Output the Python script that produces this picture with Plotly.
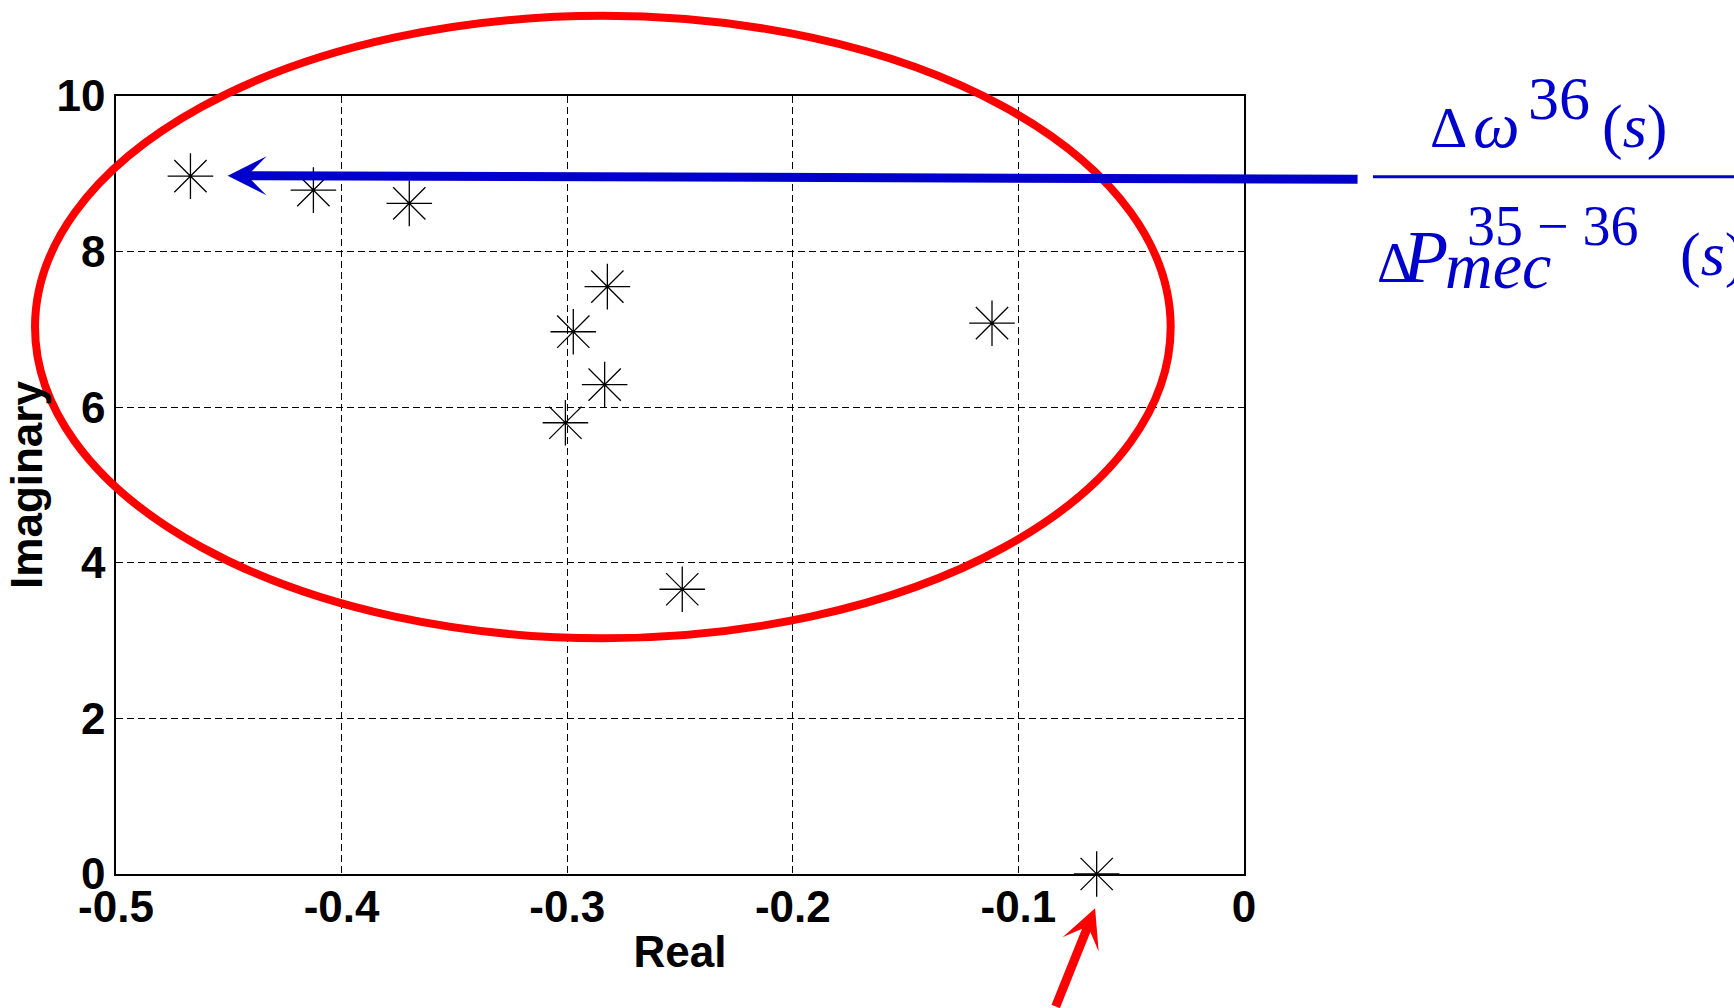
import plotly.graph_objects as go

# ---- data ----
real_parts = [-0.467, -0.4125, -0.370, -0.2822, -0.2973, -0.2834, -0.3008, -0.249, -0.1117, -0.0653]
imag_parts = [8.97, 8.79, 8.62, 7.55, 6.97, 6.29, 5.80, 3.66, 7.08, 0.0]

x_tick_vals = [-0.5, -0.4, -0.3, -0.2, -0.1, 0]
x_tick_text = ["-0.5", "-0.4", "-0.3", "-0.2", "-0.1", "0"]
y_tick_vals = [0, 2, 4, 6, 8, 10]
y_tick_text = ["0", "2", "4", "6", "8", "10"]

X_RANGE = [-0.5, 0]
Y_RANGE = [0, 10]

# ---- layout geometry ----
W, H = 1734, 1008
PL, PR, PT, PB = 116, 1244, 96, 874  # plot area in pixels


def xpaper_from_px(px):
    return (px - PL) / (PR - PL)


def ypaper_from_px(py):
    return (PB - py) / (PB - PT)


def xpaper_from_data(x):
    return (x - X_RANGE[0]) / (X_RANGE[1] - X_RANGE[0])


def ypaper_from_data(y):
    return (y - Y_RANGE[0]) / (Y_RANGE[1] - Y_RANGE[0])


AX_FONT = dict(family="Liberation Sans, Arial, sans-serif", size=44, color="black", weight="bold")
BLUE = "#0000CC"
RED = "#FF0000"
SERIF = "Liberation Serif, Times New Roman, serif"
DELTA = "\u0394"
OMEGA = "\u03c9"
MINUS = "\u2212"

fig = go.Figure()
fig.add_trace(go.Scatter(
    x=real_parts, y=imag_parts, mode="markers",
    marker=dict(symbol="asterisk-open", size=38, color="black",
                line=dict(color="black", width=1.3)),
    cliponaxis=False, showlegend=False, hoverinfo="x+y",
))

axis_common = dict(
    showgrid=True, gridcolor="black", gridwidth=1, griddash="7px,4px",
    zeroline=False, showline=True, mirror=True, linecolor="black", linewidth=1.5,
    ticks="", tickfont=AX_FONT, automargin=False,
)
fig.update_xaxes(range=X_RANGE, tickvals=x_tick_vals, ticktext=x_tick_text,
                 title=dict(text="Real", font=AX_FONT, standoff=7), **axis_common)
fig.update_yaxes(range=Y_RANGE, tickvals=y_tick_vals, ticktext=y_tick_text,
                 title=dict(text="Imaginary", font=AX_FONT, standoff=0), **axis_common)
try:
    fig.update_xaxes(ticklabelstandoff=-7)
except Exception:
    pass

# ---- red ellipse around the oscillatory poles (data units) ----
ell_x = [-0.5359, -0.0325]
ell_y = [3.03, 11.03]
shapes = [
    dict(type="circle", xref="paper", yref="paper",
         x0=xpaper_from_data(ell_x[0]), x1=xpaper_from_data(ell_x[1]),
         y0=ypaper_from_data(ell_y[0]), y1=ypaper_from_data(ell_y[1]),
         line=dict(color=RED, width=8), layer="above"),
    # fraction bar
    dict(type="line", xref="paper", yref="paper",
         x0=xpaper_from_px(1373), x1=xpaper_from_px(1745),
         y0=ypaper_from_px(176.7), y1=ypaper_from_px(176.7),
         line=dict(color=BLUE, width=3)),
]

annotations = []
# blue arrow pointing at the left-most pole
annotations.append(dict(
    x=-0.4505, y=8.976, xref="x", yref="y", ax=0.051, ay=8.93, axref="x", ayref="y",
    text="", showarrow=True, arrowhead=3, arrowsize=0.72, arrowwidth=9, arrowcolor=BLUE,
    standoff=0,
))
# red arrow pointing at the real pole
annotations.append(dict(
    x=-0.066, y=ypaper_from_px(908.3), xref="x", yref="paper", ax=-40, ay=108,
    text="", showarrow=True, arrowhead=3, arrowsize=0.72, arrowwidth=9, arrowcolor=RED,
    standoff=0,
))

ASC, DESC = 0.891, 0.216


def math_piece(text, left_px, baseline_px, size, family=SERIF):
    yc = baseline_px - (ASC - DESC) / 2 * size
    annotations.append(dict(
        x=xpaper_from_px(left_px), y=ypaper_from_px(yc), xref="paper", yref="paper",
        xanchor="left", yanchor="middle", text=text, showarrow=False,
        font=dict(family=family, size=size, color=BLUE),
        borderpad=0, borderwidth=0,
    ))


# numerator: Δω^36 (s)
math_piece(DELTA, 1430, 147, 58)
math_piece("<i>" + OMEGA + "</i>", 1473, 147, 66)
math_piece("36", 1528, 119, 62)
math_piece("(<i>s</i>)", 1602, 147, 62)
# denominator: ΔP_mec^{35-36} (s)
math_piece(DELTA, 1377, 281.7, 56)
math_piece("<i>P</i>", 1402, 281.7, 74)
math_piece("<i>mec</i>", 1445, 288, 66)
math_piece("35 " + MINUS + " 36", 1467, 245, 56)
math_piece("(<i>s</i>)", 1680, 275, 62)

fig.update_layout(
    width=W, height=H,
    margin=dict(l=PL, r=W - PR, t=PT, b=H - PB, pad=0),
    paper_bgcolor="white", plot_bgcolor="white",
    showlegend=False, shapes=shapes, annotations=annotations,
)

fig.write_html("out.html")
